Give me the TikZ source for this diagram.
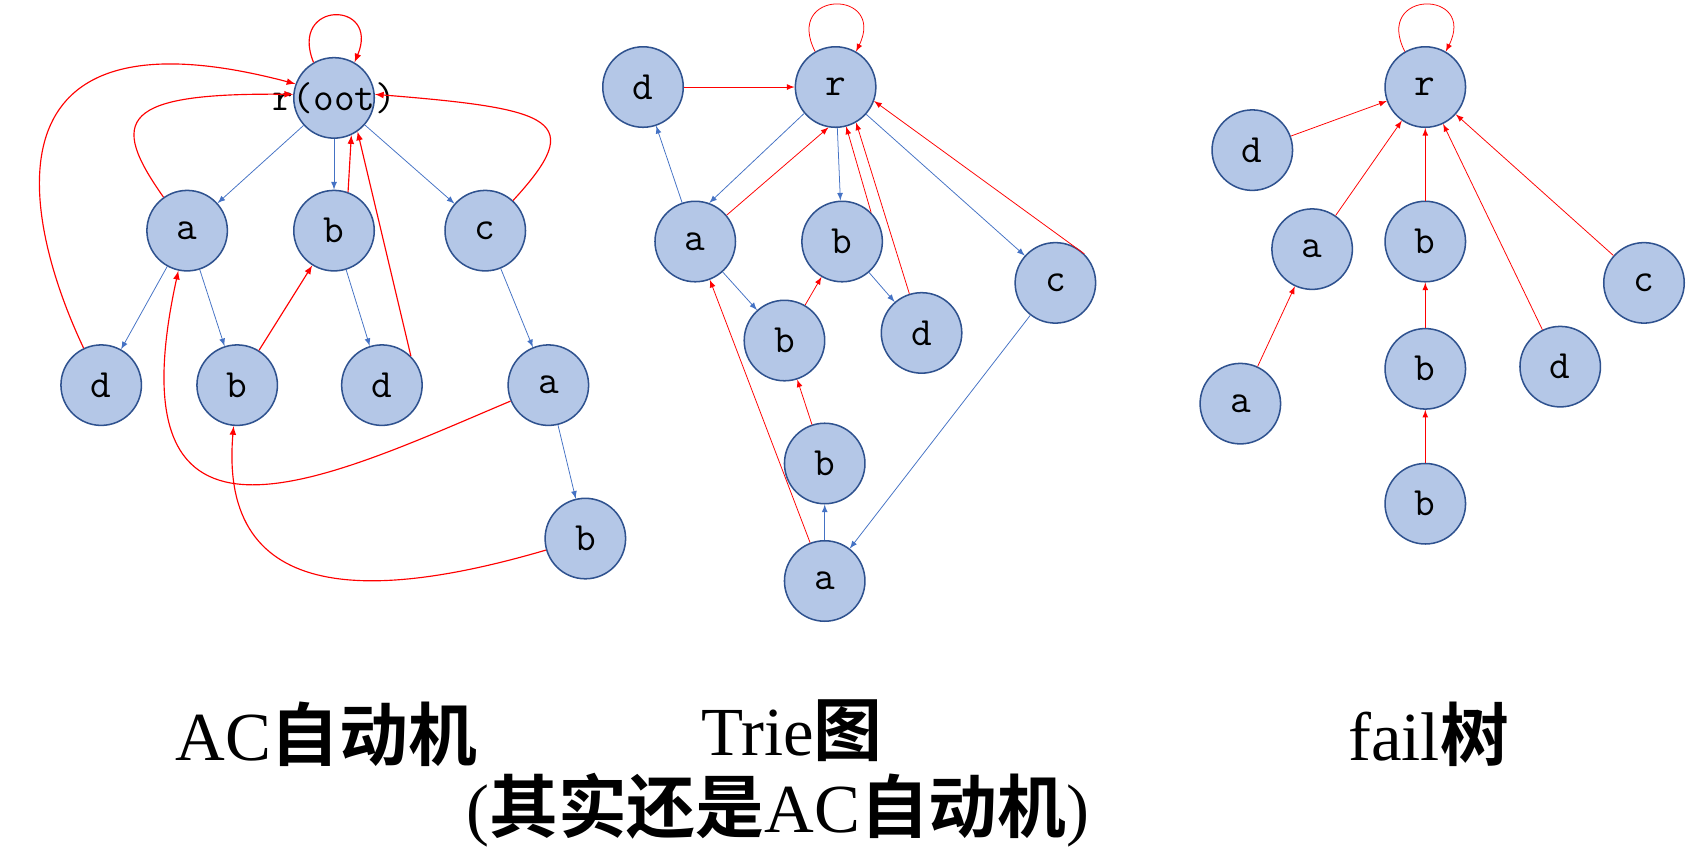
\documentclass[tikz,border=0pt]{standalone}
\usepackage{fontspec}
\setmainfont{Liberation Serif}
\newfontfamily\cjk{Noto Sans CJK SC Bold}
\definecolor{nodefill}{RGB}{180,199,231}
\definecolor{nodeline}{RGB}{47,82,143}
\definecolor{triblue}{RGB}{68,114,196}
\tikzset{
    st/.style={circle,draw=nodeline,thick,fill=nodefill,minimum size=1.48cm,inner sep=0pt,font=\ttfamily\fontsize{21}{21}\selectfont},
    tr/.style={-latex,triblue,thin},
    fl/.style={-latex,red,thin},
    flc/.style={-latex,red,semithick},
    ttl/.style={font=\fontsize{36}{40}\selectfont}
}
\begin{document}
\begin{tikzpicture}[x=0.02cm,y=-0.02cm]
    \useasboundingbox (0,0) rectangle (1568,786);
    %AC automaton
    \node[st] (r) at (307,90) {};
    \node[font=\ttfamily\fontsize{21}{21}\selectfont] (rl) at (r) {r(oot)};
    \node[st] (a) at (172,212) {a};
    \node[st] (b) at (307,212) {b};
    \node[st] (c) at (446,212) {c};
    \node[st] (ad) at (93,354) {d};
    \node[st] (ab) at (218,354) {b};
    \node[st] (bd) at (351,354) {d};
    \node[st] (ca) at (504,354) {a};
    \node[st] (cab) at (538,495) {b};
    \foreach \u/\v in {r/a,r/b,r/c,a/ad,a/ab,b/bd,c/ca,ca/cab}
        \draw[tr] (\u) -- (\v);
    \draw[flc] (r.120) .. controls (265,0) and (350,0) .. (r.60);
    \draw[flc] (a) .. controls (100,110) and (110,85) .. (r.175);
    \draw[flc] (ab) -- (b);
    \draw[flc] (b.70) -- (r.-65);
    \draw[flc] (bd.north east) -- (r.-55);
    \draw[flc] (c) .. controls (540,110) and (510,100) .. (r.5);
    \draw[flc] (ad) .. controls (20,200) and (-20,0) .. (r.160);
    \draw[flc] (ca) .. controls (300,440) and (100,540) .. (a);
    \draw[flc] (cab) .. controls (350,550) and (200,560) .. (ab);
    %Trie graph
    \node[st] (tr) at (768,80) {r};
    \node[st] (td) at (591,80) {d};
    \node[st] (ta) at (639,222) {a};
    \node[st] (tb) at (774,222) {b};
    \node[st] (tc) at (970,260) {c};
    \node[st] (tab) at (721,313) {b};
    \node[st] (tbd) at (847,306) {d};
    \node[st] (tcb) at (758,426) {b};
    \node[st] (tca) at (758,534) {a};
    \foreach \u/\v in {tr/tb,tr/tc,ta/td,ta/tab,tb/tbd,tc/tca,tca/tcb}
        \draw[tr] (\u) -- (\v);
    \draw[tr] (tr.-140) -- (ta.70);
    \draw[fl] (tr.120) .. controls (720,-10) and (815,-10) .. (tr.60);
    \foreach \u/\v in {td/tr,tab/tb,tcb/tab,tca/ta}
        \draw[fl] (\u) -- (\v);
    \draw[fl] (ta.40) -- (tr.-100);
    \draw[fl] (tb.north east) -- (tr.-75);
    \draw[fl] (tbd) -- (tr.-60);
    \draw[fl] (tc.north east) -- (tr.-20);
    %fail tree
    \node[st] (fr) at (1310,80) {r};
    \node[st] (fd) at (1151,138) {d};
    \node[st] (fa) at (1206,229) {a};
    \node[st] (fb) at (1310,222) {b};
    \node[st] (fc) at (1511,260) {c};
    \node[st] (faa) at (1140,371) {a};
    \node[st] (fbb) at (1310,339) {b};
    \node[st] (fbd) at (1434,337) {d};
    \node[st] (fbbb) at (1310,463) {b};
    \draw[fl] (fr.120) .. controls (1262,-10) and (1358,-10) .. (fr.60);
    \foreach \u/\v in {fd/fr,fa/fr,fb/fr,fbd/fr,fc/fr,faa/fa,fbb/fb,fbbb/fbb}
        \draw[fl] (\u) -- (\v);
    %titles
    \node[ttl] (t1) at (300,675) {AC{\cjk 自动机}};
    \node[ttl] (t2) at (728,672) {Trie{\cjk 图}};
    \node[ttl] (t3) at (715,745) {({\cjk 其实还是}AC{\cjk 自动机})};
    \node[ttl] (t4) at (1313,675) {fail{\cjk 树}};
\end{tikzpicture}
\end{document}
